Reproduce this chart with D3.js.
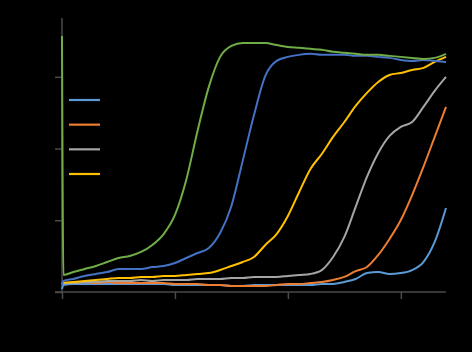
<!DOCTYPE html>
<html>
<head>
<meta charset="utf-8">
<script src="https://cdn.jsdelivr.net/npm/d3@7"></script>
<style>
html,body{margin:0;padding:0;background:#000;}
svg{display:block;}
</style>
</head>
<body>
<svg id="chart" width="472" height="352"></svg>
<script>
// time (h)
const times = [0,0.25,2,4,6,8,10,12,14,16,18,20,22,24,26,28,30,32,34,36,38,40,42,44,46,48,50,52,54,56,58,60,62,64,66,68];
const series1 = [0.021,0.049,0.056,0.056,0.056,0.056,0.056,0.056,0.056,0.056,0.056,0.049,0.049,0.049,0.049,0.049,0.042,0.042,0.049,0.049,0.049,0.049,0.049,0.049,0.056,0.056,0.070,0.091,0.132,0.139,0.126,0.132,0.153,0.209,0.349,0.586];
const series2 = [0.063,0.063,0.063,0.070,0.063,0.070,0.063,0.063,0.063,0.063,0.063,0.056,0.056,0.056,0.049,0.049,0.042,0.042,0.042,0.042,0.049,0.056,0.056,0.063,0.070,0.084,0.105,0.146,0.174,0.258,0.370,0.502,0.676,0.872,1.081,1.290];
const series3 = [0.056,0.063,0.063,0.070,0.070,0.077,0.077,0.077,0.084,0.077,0.084,0.084,0.084,0.091,0.091,0.091,0.098,0.098,0.105,0.105,0.105,0.112,0.119,0.126,0.153,0.244,0.384,0.593,0.802,0.969,1.088,1.151,1.185,1.290,1.402,1.499];
const series4 = [0.056,0.063,0.070,0.077,0.084,0.091,0.098,0.098,0.105,0.105,0.112,0.112,0.119,0.126,0.132,0.153,0.181,0.209,0.244,0.328,0.404,0.530,0.697,0.858,0.962,1.081,1.185,1.297,1.388,1.464,1.513,1.527,1.548,1.562,1.604,1.639];
const series5 = [0.049,0.077,0.091,0.112,0.126,0.139,0.160,0.160,0.160,0.174,0.181,0.202,0.237,0.272,0.307,0.411,0.600,0.914,1.234,1.506,1.611,1.639,1.653,1.660,1.653,1.653,1.653,1.646,1.646,1.639,1.632,1.618,1.611,1.618,1.611,1.604];
const series6 = [1.785,0.119,0.139,0.160,0.181,0.209,0.237,0.251,0.279,0.328,0.404,0.537,0.781,1.123,1.430,1.639,1.715,1.736,1.736,1.736,1.722,1.708,1.702,1.695,1.688,1.674,1.667,1.660,1.653,1.653,1.646,1.639,1.632,1.625,1.632,1.660];
const seriesNames = ["Series1","Series2","Series3","Series4","Series5","Series6"];
const seriesColors = ["#5B9BD5","#ED7D31","#A5A5A5","#FFC000","#4472C4","#70AD47"];
const xTicks = [0,20,40,60];
const yTicks = [0,0.5,1,1.5];

const allSeries = [series1,series2,series3,series4,series5,series6];
const svg = d3.select("#chart");
const x = d3.scaleLinear().domain([0,68]).range([62,446]);
const y = d3.scaleLinear().domain([0,1.91]).range([292,18]);

const axisColor = "#4a4a4a";
// x axis
const gx = svg.append("g").attr("transform","translate(0,292)")
  .call(d3.axisBottom(x).tickValues(xTicks).tickSize(7).tickSizeOuter(0).tickPadding(6));
gx.select(".domain").remove();
gx.append("line").attr("x1",55).attr("x2",446).attr("y1",0).attr("y2",0)
  .attr("stroke",axisColor).attr("stroke-width",1.5);
gx.selectAll(".tick line").attr("stroke",axisColor).attr("stroke-width",1.5);
gx.selectAll(".tick text").attr("fill","#000").style("font-family","Liberation Sans, Arial, sans-serif").style("font-size","12px");

// y axis
const gy = svg.append("g").attr("transform","translate(62,0)")
  .call(d3.axisLeft(y).tickValues(yTicks).tickSize(7).tickSizeOuter(0).tickPadding(6));
gy.select(".domain").remove();
gy.append("line").attr("x1",0).attr("x2",0).attr("y1",18).attr("y2",292)
  .attr("stroke",axisColor).attr("stroke-width",1.5);
gy.selectAll(".tick line").attr("stroke",axisColor).attr("stroke-width",1.5);
gy.selectAll(".tick text").attr("fill","#000").style("font-family","Liberation Sans, Arial, sans-serif").style("font-size","12px");

const line = d3.line().x((d,i)=>x(times[i])).y(d=>y(d)).curve(d3.curveMonotoneX);
allSeries.forEach((s,k)=>{
  svg.append("path").datum(s).attr("d",line)
    .attr("fill","none").attr("stroke",seriesColors[k]).attr("stroke-width",2)
    .attr("stroke-linejoin","round");
});

// legend (first four entries)
const lg = svg.append("g");
const ly = d3.scalePoint().domain(seriesNames.slice(0,4)).range([100,174]);
seriesNames.slice(0,4).forEach((n,k)=>{
  lg.append("line").attr("x1",69).attr("x2",100).attr("y1",ly(n)).attr("y2",ly(n))
    .attr("stroke",seriesColors[k]).attr("stroke-width",2.2);
  lg.append("text").attr("x",104).attr("y",ly(n)+4).text(n)
    .attr("fill","#000").style("font-family","Liberation Sans, Arial, sans-serif").style("font-size","11px");
});
</script>
</body>
</html>
